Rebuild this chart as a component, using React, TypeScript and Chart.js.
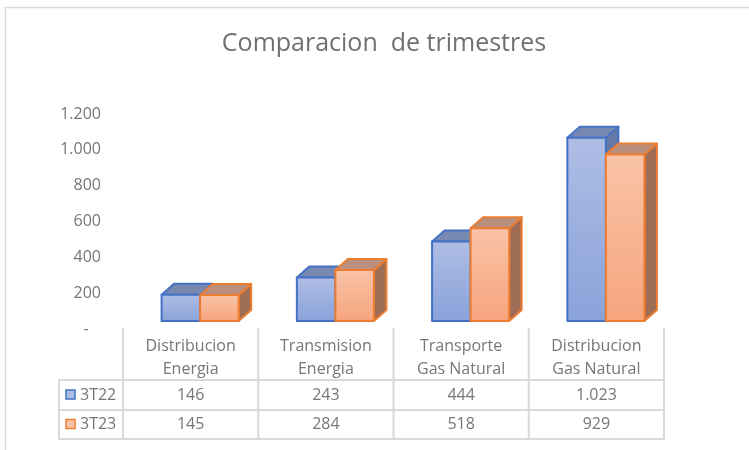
import React, { useEffect, useRef } from "react";
import { Chart, registerables } from "chart.js";
Chart.register(...registerables);

const titleText = "Comparacion  de trimestres";
const categories = [
  ["Distribucion", "Energia"],
  ["Transmision", "Energia"],
  ["Transporte", "Gas Natural"],
  ["Distribucion", "Gas Natural"],
];
const seriesNames = ["3T22", "3T23"];
const series3T22 = [146, 243, 444, 1023];
const series3T23 = [145, 284, 518, 929];
const yMin = 0;
const yMax = 1200;
const yStep = 200;

const FONT = "'Open Sans', 'Noto Sans', sans-serif";
const TEXT = "#767676";
const LINE = "#d9d9d9";
const DX = 12.5;
const DY = -11;
const SHIFT = 9.5;

const styles = [
  { border: "#4472c4", top: "#7889b1", side: "#647aa4", g0: "#aebde4", g1: "#8aa3da" },
  { border: "#ed7d31", top: "#bb8f7d", side: "#9f6d55", g0: "#f9c3a7", g1: "#f6a47d" },
];

const fmt = (v: number) =>
  v === 0 ? "-" : String(v).replace(/\B(?=(\d{3})+(?!\d))/g, ".");

const allSeries = [series3T22, series3T23];

const box3d = {
  id: "box3d",
  afterDatasetsDraw(chart: any) {
    const ctx = chart.ctx;
    const n = chart.data.labels.length;
    ctx.save();
    ctx.lineJoin = "round";
    for (let i = 0; i < n; i++) {
      chart.data.datasets.forEach((_ds: any, d: number) => {
        const el = chart.getDatasetMeta(d).data[i];
        const { x, y, base, width } = el.getProps(["x", "y", "base", "width"], true);
        const st = styles[d];
        const x0 = x - width / 2 + SHIFT;
        const x1 = x + width / 2 + SHIFT;
        ctx.lineWidth = 2;
        ctx.strokeStyle = st.border;
        // side face
        ctx.beginPath();
        ctx.moveTo(x1, y);
        ctx.lineTo(x1 + DX, y + DY);
        ctx.lineTo(x1 + DX, base + DY);
        ctx.lineTo(x1, base);
        ctx.closePath();
        ctx.fillStyle = st.side;
        ctx.fill();
        ctx.stroke();
        // top face
        ctx.beginPath();
        ctx.moveTo(x0, y);
        ctx.lineTo(x0 + DX, y + DY);
        ctx.lineTo(x1 + DX, y + DY);
        ctx.lineTo(x1, y);
        ctx.closePath();
        ctx.fillStyle = st.top;
        ctx.fill();
        ctx.stroke();
        // front face
        const g = ctx.createLinearGradient(0, y, 0, base);
        g.addColorStop(0, st.g0);
        g.addColorStop(1, st.g1);
        ctx.fillStyle = g;
        ctx.fillRect(x0, y, x1 - x0, base - y);
        ctx.strokeRect(x0, y, x1 - x0, base - y);
      });
    }
    ctx.restore();
  },
  afterDraw(chart: any) {
    const ctx = chart.ctx;
    const xs = chart.scales.x;
    ctx.save();
    // outer border
    ctx.strokeStyle = LINE;
    ctx.lineWidth = 1.5;
    ctx.strokeRect(5.5, 7.5, 900, 600);
    // title
    ctx.fillStyle = "#707070";
    ctx.font = `25px ${FONT}`;
    ctx.textAlign = "center";
    ctx.textBaseline = "middle";
    ctx.fillText(titleText, 384, 44);

    // data table
    const n = chart.data.labels.length;
    const half = (xs.getPixelForValue(1) - xs.getPixelForValue(0)) / 2;
    const left = xs.getPixelForValue(0) - half;
    const right = xs.getPixelForValue(n - 1) + half;
    const legendLeft = 59;
    const topY = 328;
    const r0 = 380;
    const r1 = 410;
    const r2 = 439;
    ctx.strokeStyle = LINE;
    ctx.lineWidth = 2;
    ctx.beginPath();
    for (let i = 0; i <= n; i++) {
      const xx = left + i * 2 * half;
      ctx.moveTo(xx, topY);
      ctx.lineTo(xx, r2);
    }
    ctx.moveTo(legendLeft, r0);
    ctx.lineTo(legendLeft, r2);
    [r0, r1, r2].forEach((yy) => {
      ctx.moveTo(legendLeft - 1, yy);
      ctx.lineTo(right + 1, yy);
    });
    ctx.stroke();

    ctx.fillStyle = TEXT;
    ctx.font = `16px ${FONT}`;
    ctx.textAlign = "center";
    ctx.textBaseline = "middle";
    for (let i = 0; i < n; i++) {
      const cx = xs.getPixelForValue(i);
      const lab = chart.data.labels[i];
      ctx.fillText(lab[0], cx, 346);
      ctx.fillText(lab[1], cx, 369);
      allSeries.forEach((s, d) => {
        ctx.fillText(fmt(s[i]), cx, d === 0 ? (r0 + r1) / 2 : (r1 + r2) / 2);
      });
    }
    // legend keys
    seriesNames.forEach((name, d) => {
      const cy = d === 0 ? (r0 + r1) / 2 : (r1 + r2) / 2;
      const st = styles[d];
      ctx.fillStyle = st.g0;
      ctx.fillRect(66, cy - 5, 9, 9);
      ctx.strokeStyle = st.border;
      ctx.lineWidth = 1.5;
      ctx.strokeRect(66, cy - 5, 9, 9);
      ctx.fillStyle = TEXT;
      ctx.textAlign = "left";
      ctx.fillText(name, 80, cy);
    });
    ctx.restore();
  },
};

export default function App() {
  const ref = useRef<HTMLCanvasElement>(null);
  useEffect(() => {
    if (!ref.current) return;
    const chart = new Chart(ref.current, {
      type: "bar",
      data: {
        labels: categories,
        datasets: [
          { label: seriesNames[0], data: series3T22, backgroundColor: "rgba(0,0,0,0)", borderWidth: 0 },
          { label: seriesNames[1], data: series3T23, backgroundColor: "rgba(0,0,0,0)", borderWidth: 0 },
        ],
      },
      options: {
        responsive: false,
        animation: false,
        events: [],
        layout: { padding: { top: 106, bottom: 129, left: 0, right: 85 } },
        datasets: { bar: { categoryPercentage: 0.57, barPercentage: 1 } },
        plugins: { legend: { display: false }, title: { display: false }, tooltip: { enabled: false } },
        scales: {
          x: { display: false, offset: true },
          y: {
            min: yMin,
            max: yMax,
            ticks: {
              stepSize: yStep,
              padding: 22,
              labelOffset: 8,
              color: TEXT,
              font: { family: FONT, size: 16 },
              callback: (v: any) => (Number(v) === 0 ? "-   " : fmt(Number(v))),
            },
            grid: { display: false, drawTicks: false },
            border: { display: false },
            afterFit: (s: any) => {
              s.width = 123;
            },
          },
        },
      },
      plugins: [box3d],
    });
    return () => chart.destroy();
  }, []);
  return (
    <div style={{ position: "absolute", left: 0, top: 0, width: 749, height: 450, background: "#fff" }}>
      <canvas ref={ref} width={749} height={450} style={{ display: "block" }} />
    </div>
  );
}
